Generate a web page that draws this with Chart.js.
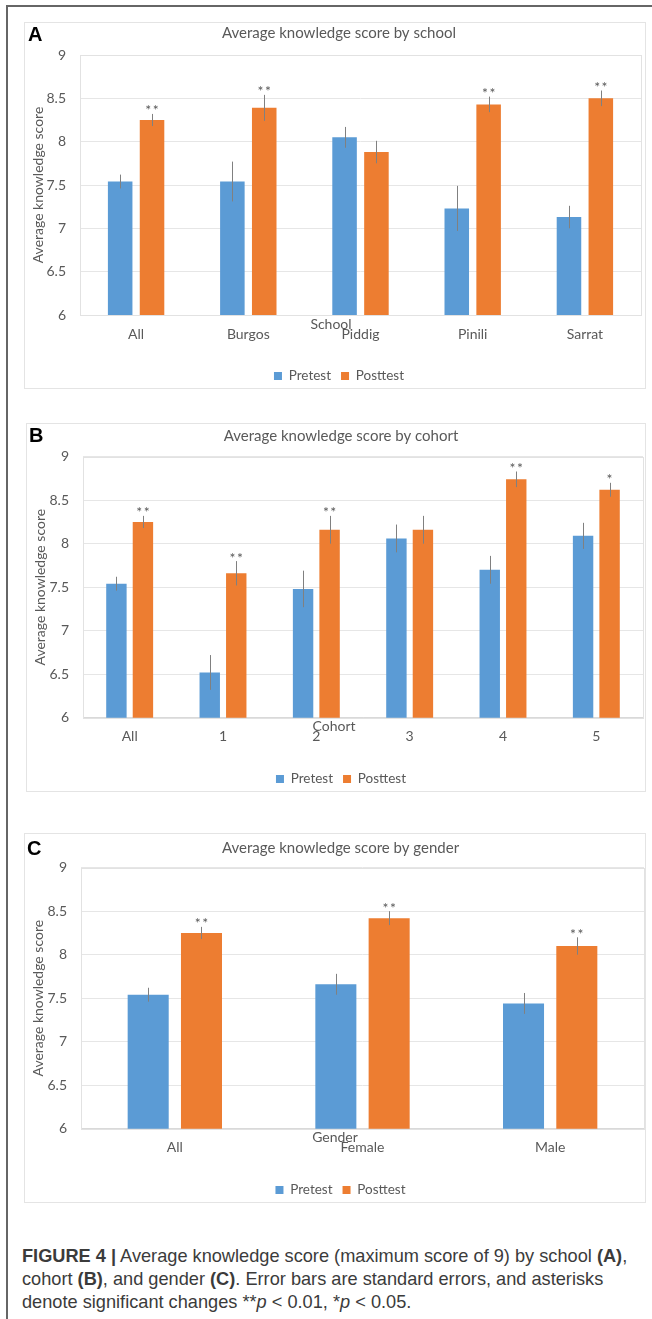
<!DOCTYPE html>
<html>
<head>
<meta charset="utf-8">
<script src="https://cdn.jsdelivr.net/npm/chart.js@4.4.0/dist/chart.umd.min.js"></script>
<style>
  body { margin: 0; background: #fff; width: 652px; height: 1319px; overflow: hidden; position: relative; }
  .frame { position: absolute; left: 6px; top: 5px; width: 700px; height: 1400px;
           border-left: 2px solid #666; border-top: 2px solid #666; }
  .box { position: absolute; border: 1px solid #e4e4e4; box-sizing: border-box; }
  canvas { position: absolute; }
  .letter { position: absolute; font: bold 20px "Liberation Sans", Arial, sans-serif; line-height: 20px; color: #000; }
  .caption { position: absolute; left: 22px; top: 1245px; width: 640px; font: 18.2px "Liberation Sans", Arial, sans-serif;
             line-height: 23px; color: #3b3b3b; white-space: nowrap; }
</style>
</head>
<body>
<div class="frame"></div>

<div class="box" style="left:24px;top:22px;width:622px;height:367px"></div>
<div class="box" style="left:26px;top:423px;width:620px;height:369px"></div>
<div class="box" style="left:24px;top:833px;width:622px;height:370px"></div>

<canvas id="chartA" width="620" height="380" style="left:25px;top:22px"></canvas>
<canvas id="chartB" width="618" height="380" style="left:27px;top:423px"></canvas>
<canvas id="chartC" width="622" height="380" style="left:25px;top:833px"></canvas>

<div class="letter" style="left:28px;top:24px">A</div>
<div class="letter" style="left:29px;top:425px">B</div>
<div class="letter" style="left:27px;top:838px">C</div>

<div class="caption"><b>FIGURE 4 |</b> Average knowledge score (maximum score of 9) by school <b>(A)</b>,<br>cohort <b>(B)</b>, and gender <b>(C)</b>. Error bars are standard errors, and asterisks<br>denote significant changes **<i>p</i> &lt; 0.01, *<i>p</i> &lt; 0.05.</div>

<script>
// shared axis
const yTickLabels = ['6', '6.5', '7', '7.5', '8', '8.5', '9'];
const seriesNames = ['Pretest', 'Posttest'];

// A: by school
const schoolLabels = ['All', 'Burgos', 'Piddig', 'Pinili', 'Sarrat'];
const schoolPre = [7.54, 7.54, 8.05, 7.23, 7.13];
const schoolPost = [8.25, 8.39, 7.88, 8.43, 8.50];
const schoolPreErr = [0.08, 0.23, 0.12, 0.26, 0.13];
const schoolPostErr = [0.07, 0.15, 0.13, 0.09, 0.09];
const schoolSig = ['**', '**', '', '**', '**'];

// B: by cohort
const cohortLabels = ['All', '1', '2', '3', '4', '5'];
const cohortPre = [7.54, 6.52, 7.48, 8.06, 7.70, 8.09];
const cohortPost = [8.25, 7.66, 8.16, 8.16, 8.74, 8.62];
const cohortPreErr = [0.08, 0.20, 0.21, 0.16, 0.16, 0.15];
const cohortPostErr = [0.07, 0.14, 0.16, 0.16, 0.09, 0.08];
const cohortSig = ['**', '**', '**', '', '**', '*'];

// C: by gender
const genderLabels = ['All', 'Female', 'Male'];
const genderPre = [7.54, 7.66, 7.44];
const genderPost = [8.25, 8.42, 8.10];
const genderPreErr = [0.08, 0.12, 0.12];
const genderPostErr = [0.07, 0.08, 0.10];
const genderSig = ['**', '**', '**'];

const BLUE = '#5b9bd5';
const ORANGE = '#ed7d31';
const TEXT = '#595959';
const FONT = 'Lato';
const LEGEND_SIZE = 13.5;

// error bars, significance marks, plot border and the x axis title
const extrasPlugin = {
    id: 'extras',
    beforeDatasetsDraw(chart) {
        const { ctx, chartArea: a } = chart;
        ctx.save();
        ctx.strokeStyle = '#e2e2e2';
        ctx.lineWidth = 1;
        ctx.strokeRect(Math.round(a.left) + 0.5, Math.round(a.top) + 0.5, Math.round(a.width), Math.round(a.height));
        ctx.restore();
    },
    afterDatasetsDraw(chart, args, opts) {
        const { ctx, chartArea: a } = chart;
        const y = chart.scales.y;
        ctx.save();
        chart.data.datasets.forEach((ds, di) => {
            chart.getDatasetMeta(di).data.forEach((bar, i) => {
                const v = ds.data[i];
                const e = ds.errors[i];
                const x = Math.round(bar.x) + 0.5;
                const top = y.getPixelForValue(v + e);
                ctx.strokeStyle = '#808080';
                ctx.lineWidth = 1;
                ctx.beginPath();
                ctx.moveTo(x, top);
                ctx.lineTo(x, y.getPixelForValue(v - e));
                ctx.stroke();
                if (ds.marks && ds.marks[i]) {
                    ctx.fillStyle = TEXT;
                    ctx.font = '14px ' + FONT;
                    ctx.letterSpacing = '1.5px';
                    ctx.textAlign = 'center';
                    ctx.textBaseline = 'middle';
                    ctx.fillText(ds.marks[i], bar.x + 0.75, top - 3);
                    ctx.letterSpacing = '0px';
                }
            });
        });
        // axis title sits over the category labels, as in the original
        ctx.fillStyle = TEXT;
        ctx.font = '14px ' + FONT;
        ctx.textAlign = 'center';
        ctx.textBaseline = 'middle';
        ctx.fillText(opts.xTitle, opts.xTitleX, a.bottom + 9);
        ctx.restore();
    }
};

function makeChart(id, labels, pre, post, preErr, postErr, sig, title, xTitle, g) {
    const canvas = document.getElementById(id);
    const W = canvas.width, H = canvas.height;
    const padLeft = 12;
    const legendH = LEGEND_SIZE + 20;
    const padBottom = H - (10 + LEGEND_SIZE / 2) - g.legend;
    const legendTop = H - padBottom - legendH;

    return new Chart(canvas.getContext('2d'), {
        type: 'bar',
        data: {
            labels: labels,
            datasets: [
                { label: seriesNames[0], data: pre, errors: preErr, backgroundColor: BLUE, borderWidth: 0 },
                { label: seriesNames[1], data: post, errors: postErr, marks: sig, backgroundColor: ORANGE, borderWidth: 0 }
            ]
        },
        options: {
            responsive: false,
            animation: false,
            datasets: { bar: { categoryPercentage: 0.568, barPercentage: 0.77 } },
            layout: { padding: { left: padLeft, right: W - g.right, top: 0, bottom: padBottom } },
            plugins: {
                title: {
                    display: true,
                    text: title,
                    color: TEXT,
                    font: { family: FONT, size: 15, weight: 'normal' },
                    padding: { top: g.title - 9, bottom: g.top - g.title - 9 }
                },
                legend: {
                    position: 'bottom',
                    labels: { color: TEXT, font: { family: FONT, size: LEGEND_SIZE }, boxWidth: 8, boxHeight: 8, padding: 10 }
                },
                tooltip: { enabled: false },
                extras: { xTitle: xTitle, xTitleX: g.xTitleX }
            },
            scales: {
                x: {
                    grid: { display: false, drawTicks: false },
                    border: { color: '#d9d9d9' },
                    ticks: { color: TEXT, font: { family: FONT, size: 14 }, padding: 10.6 },
                    afterFit: (s) => { s.height = legendTop - g.bottom; }
                },
                y: {
                    min: 6,
                    max: 9,
                    ticks: {
                        stepSize: 0.5,
                        color: TEXT,
                        font: { family: FONT, size: 14 },
                        padding: 14,
                        callback: (v, i) => yTickLabels[i]
                    },
                    grid: { color: '#e6e6e6', drawTicks: false },
                    border: { display: false },
                    title: {
                        display: true,
                        text: 'Average knowledge score',
                        color: TEXT,
                        font: { family: FONT, size: 14 },
                        padding: { top: 13.5 - padLeft - 8.4, bottom: 0 }
                    },
                    afterFit: (s) => { s.width = g.left - padLeft; }
                }
            }
        },
        plugins: [extrasPlugin]
    });
}

makeChart('chartA', schoolLabels, schoolPre, schoolPost, schoolPreErr, schoolPostErr, schoolSig,
    'Average knowledge score by school', 'School',
    { title: 11, top: 33, bottom: 293, left: 55, right: 616, legend: 354, xTitleX: 306 });

makeChart('chartB', cohortLabels, cohortPre, cohortPost, cohortPreErr, cohortPostErr, cohortSig,
    'Average knowledge score by cohort', 'Cohort',
    { title: 13, top: 33.7, bottom: 294.7, left: 56, right: 616, legend: 356, xTitleX: 307 });

makeChart('chartC', genderLabels, genderPre, genderPost, genderPreErr, genderPostErr, genderSig,
    'Average knowledge score by gender', 'Gender',
    { title: 15, top: 34.7, bottom: 295.7, left: 56, right: 619, legend: 357, xTitleX: 310 });
</script>
</body>
</html>
